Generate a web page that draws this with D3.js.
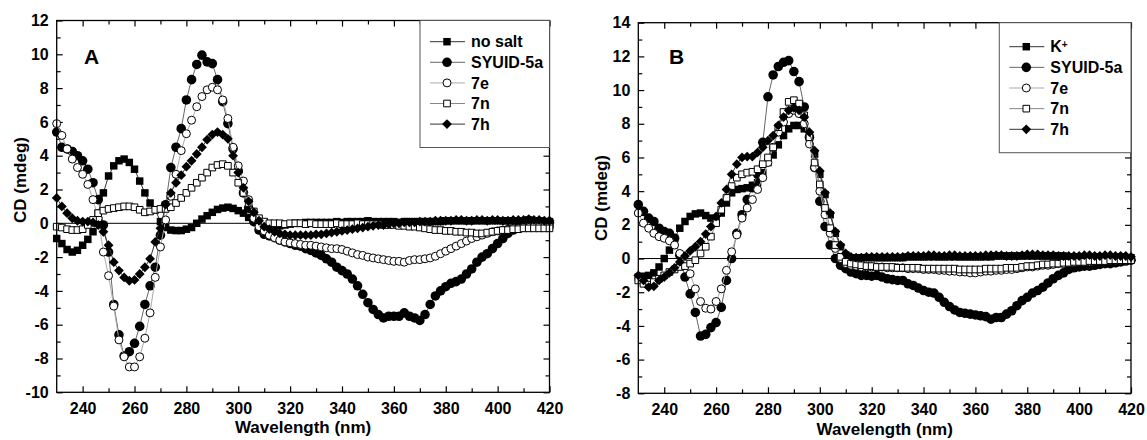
<!DOCTYPE html>
<html>
<head>
<meta charset="utf-8">
<script src="https://cdn.jsdelivr.net/npm/d3@7"></script>
<style>
  body { margin: 0; background: #fff; }
  svg text { font-family: "Liberation Sans", Arial, sans-serif; font-weight: bold; fill: #000; }
</style>
</head>
<body>
<svg width="1147" height="440"></svg>
<script>
// wavelength grid (nm), shared by every series
const wavelength = [
  230, 232, 234, 236, 238, 240, 242, 244, 246, 248,
  250, 252, 254, 256, 258, 260, 262, 264, 266, 268,
  270, 272, 274, 276, 278, 280, 282, 284, 286, 288,
  290, 292, 294, 296, 298, 300, 302, 304, 306, 308,
  310, 312, 314, 316, 318, 320, 322, 324, 326, 328,
  330, 332, 334, 336, 338, 340, 342, 344, 346, 348,
  350, 352, 354, 356, 358, 360, 362, 364, 366, 368,
  370, 372, 374, 376, 378, 380, 382, 384, 386, 388,
  390, 392, 394, 396, 398, 400, 402, 404, 406, 408,
  410, 412, 414, 416, 418, 420
];

const xTicks = [240, 260, 280, 300, 320, 340, 360, 380, 400, 420];
const xMinorTicks = [250, 270, 290, 310, 330, 350, 370, 390, 410];
const yTicksA = [-10, -8, -6, -4, -2, 0, 2, 4, 6, 8, 10, 12];
const yTicksB = [-8, -6, -4, -2, 0, 2, 4, 6, 8, 10, 12, 14];

// ---- panel A ----
const noSaltA = [
  -0.9, -1.2, -1.55, -1.7, -1.6, -1.3, -0.95, -0.5, 0.6, 1.8,
  2.8, 3.4, 3.7, 3.8, 3.6, 3.2, 2.5, 1.8, 1.2, 0.8,
  0.1, -0.25, -0.4, -0.43, -0.43, -0.35, -0.25, 0, 0.25, 0.45,
  0.65, 0.82, 0.9, 0.95, 0.88, 0.75, 0.6, 0.35, 0.15, -0.05,
  -0.2, -0.25, -0.2, -0.15, -0.1, -0.05, 0, 0, 0.05, 0.05,
  0.05, 0.05, 0.05, 0.05, 0.1, 0.05, 0.1, 0.1, 0.1, 0.1,
  0.15, 0.1, 0.1, 0.1, 0.1, 0.1, 0.05, 0.1, 0.1, 0.1,
  0.1, 0.1, 0.1, 0.1, 0.1, 0.15, 0.15, 0.15, 0.15, 0.15,
  0.15, 0.15, 0.15, 0.15, 0.15, 0.15, 0.15, 0.15, 0.15, 0.15,
  0.15, 0.2, 0.15, 0.15, 0.1, 0.1
];
const syuidA = [
  5.4, 4.5, 4.4, 4.25, 4.0, 3.7, 3.2, 2.4, 1.4, -0.1,
  -1.7, -4.8, -6.6, -7.85, -7.6, -7.1, -6.1, -4.8, -3.7, -2.6,
  -0.7, 1.1, 3.3, 4.5, 5.6, 7.3, 8.5, 9.4, 9.95, 9.55,
  9.45, 8.5, 7.2, 5.9, 4.4, 3.1, 1.8, 0.9, 0.1, -0.4,
  -0.65, -0.75, -0.85, -1.0, -1.1, -1.2, -1.3, -1.35, -1.5, -1.6,
  -1.75, -1.9, -2.1, -2.3, -2.6, -2.8, -3.0, -3.3, -3.7, -4.2,
  -4.7, -5.1, -5.4, -5.6, -5.5, -5.5, -5.5, -5.3, -5.5, -5.6,
  -5.75, -5.4, -4.8, -4.3, -4.0, -3.75, -3.55, -3.45, -3.3, -3.0,
  -2.7, -2.3, -2.0, -1.8, -1.5, -1.2, -0.9, -0.6, -0.4, -0.25,
  -0.1, 0, 0.05, 0.05, 0.05, 0.05
];
const e7A = [
  5.9, 5.2, 4.4, 3.8, 3.3, 2.9, 2.3, 1.4, 0.3, -1.7,
  -3.1, -4.9, -6.9, -7.9, -8.5, -8.5, -7.9, -6.8, -5.3, -3.2,
  -1.4, 0.2, 1.6, 2.9, 4.3, 5.3, 6.1, 6.9, 7.5, 7.9,
  8.05, 7.9, 7.3, 6.2, 4.5, 3.4, 2.5, 1.4, 0.3, -0.2,
  -0.45, -0.7, -0.85, -1.0, -1.1, -1.15, -1.2, -1.25, -1.3, -1.3,
  -1.35, -1.4, -1.45, -1.5, -1.5, -1.55, -1.65, -1.75, -1.85, -1.9,
  -2.0, -2.05, -2.1, -2.15, -2.2, -2.25, -2.25, -2.3, -2.2, -2.15,
  -2.15, -2.1, -2.05, -1.95, -1.8, -1.65, -1.5, -1.35, -1.2, -1.05,
  -0.9, -0.8, -0.7, -0.6, -0.5, -0.45, -0.4, -0.35, -0.3, -0.3,
  -0.25, -0.25, -0.2, -0.2, -0.2, -0.2
];
const n7A = [
  -0.2, -0.25, -0.35, -0.4, -0.4, -0.35, -0.1, 0.2, 0.6, 0.75,
  0.85, 0.9, 0.95, 1.0, 1.0, 0.95, 0.8, 0.65, 0.7, 0.8,
  0.85, 0.85, 0.95, 1.2, 1.5, 1.8, 2.1, 2.4, 2.7, 3.0,
  3.3, 3.45, 3.5, 3.4, 3.0, 2.4, 1.8, 1.2, 0.7, 0.3,
  0.1, 0, 0, 0, -0.05, 0, 0, 0, -0.05, 0,
  -0.05, -0.05, -0.05, -0.05, 0, -0.05, -0.05, -0.05, 0, -0.05,
  -0.05, -0.05, -0.05, -0.1, -0.1, -0.1, -0.15, -0.15, -0.2, -0.2,
  -0.25, -0.3, -0.35, -0.4, -0.4, -0.45, -0.45, -0.5, -0.5, -0.55,
  -0.55, -0.6, -0.6, -0.55, -0.5, -0.45, -0.4, -0.4, -0.35, -0.35,
  -0.3, -0.3, -0.3, -0.3, -0.3, -0.3
];
const h7A = [
  1.5, 1.0, 0.6, 0.3, 0.15, 0.1, 0.1, 0.05, -0.1, -0.5,
  -1.3, -2.3, -2.8, -3.2, -3.4, -3.35, -3.0, -2.6, -2.1, -1.1,
  -0.3, 1.1, 1.8, 2.4, 2.85, 3.35, 3.7, 4.1, 4.5, 4.95,
  5.25, 5.4, 5.25, 5.0, 4.0, 3.0, 2.1, 1.3, 0.65, 0.15,
  -0.2, -0.35, -0.5, -0.6, -0.65, -0.7, -0.7, -0.7, -0.7, -0.7,
  -0.65, -0.65, -0.6, -0.55, -0.5, -0.45, -0.4, -0.35, -0.3, -0.25,
  -0.2, -0.15, -0.1, -0.1, -0.05, 0, 0, 0.05, 0.05, 0.05,
  0.1, 0.1, 0.1, 0.15, 0.15, 0.15, 0.15, 0.2, 0.2, 0.15,
  0.15, 0.2, 0.2, 0.15, 0.2, 0.2, 0.15, 0.15, 0.2, 0.2,
  0.2, 0.25, 0.2, 0.2, 0.15, 0.15
];

// ---- panel B ----
const kB = [
  -1.1, -1.05, -1.0, -0.85, -0.5, 0.0, 0.5, 1.2, 1.8, 2.2,
  2.5, 2.65, 2.7, 2.55, 2.4, 2.35, 2.7, 3.3, 3.9, 4.1,
  4.15, 4.2, 4.35, 4.5, 5.1, 5.7, 6.15, 6.75, 7.3, 7.7,
  7.9, 7.9, 7.7, 7.2, 6.2, 5.0, 3.8, 2.6, 1.5, 0.7,
  0.2, 0.05, 0.0, 0.05, 0.05, 0.05, 0.05, 0.05, 0.05, 0.05,
  0.05, 0.05, 0.1, 0.1, 0.1, 0.1, 0.1, 0.1, 0.1, 0.1,
  0.1, 0.1, 0.1, 0.1, 0.1, 0.1, 0.1, 0.1, 0.1, 0.15,
  0.15, 0.15, 0.15, 0.15, 0.15, 0.15, 0.15, 0.15, 0.15, 0.15,
  0.15, 0.15, 0.15, 0.1, 0.1, 0.1, 0.1, 0.1, 0.1, 0.1,
  0.1, 0.1, 0.1, 0.1, 0.05, 0.05
];
const syuidB = [
  3.2, 2.8, 2.4, 2.2, 1.8, 1.6, 1.5, 1.2, 0.2, -1.1,
  -2.1, -3.2, -4.6, -4.5, -4.1, -3.8, -2.9, -1.3, 0.0, 1.5,
  2.6, 3.5, 4.2, 5.0, 6.9, 9.6, 10.9, 11.4, 11.65, 11.75,
  11.1, 10.5, 9.0, 7.2, 5.4, 3.4, 1.9, 0.8, 0.0, -0.4,
  -0.6, -0.8, -0.9, -1.0, -1.0, -1.05, -1.0, -1.1, -1.2, -1.25,
  -1.3, -1.3, -1.5, -1.6, -1.75, -1.9, -2.0, -2.05, -2.3, -2.6,
  -2.85, -3.05, -3.2, -3.25, -3.3, -3.35, -3.4, -3.45, -3.6, -3.5,
  -3.5, -3.3, -3.1, -2.8, -2.5, -2.3, -2.05, -1.9, -1.7, -1.45,
  -1.2, -1.0, -0.85, -0.65, -0.55, -0.5, -0.45, -0.45, -0.4, -0.35,
  -0.3, -0.3, -0.25, -0.2, -0.15, -0.1
];
const e7B = [
  2.7, 2.1, 1.8, 1.5, 1.3, 1.2, 1.05, 0.8, 0.3, -0.3,
  -0.9, -1.8, -2.55, -2.95, -3.0, -2.55, -1.8, -0.7, 0.4, 1.4,
  2.4, 3.0, 3.5, 4.1, 4.8, 5.7, 6.6, 7.5, 8.1, 8.6,
  8.8, 8.6, 8.0, 6.8, 5.4, 4.0, 2.6, 1.5, 0.6, 0.0,
  -0.3, -0.4, -0.45, -0.5, -0.5, -0.5, -0.5, -0.5, -0.55, -0.55,
  -0.55, -0.55, -0.6, -0.6, -0.6, -0.65, -0.65, -0.65, -0.7, -0.7,
  -0.75, -0.75, -0.8, -0.8, -0.85, -0.85, -0.8, -0.75, -0.75, -0.7,
  -0.7, -0.65, -0.65, -0.6, -0.55, -0.5, -0.5, -0.45, -0.4, -0.4,
  -0.35, -0.3, -0.3, -0.25, -0.25, -0.2, -0.2, -0.2, -0.15, -0.15,
  -0.15, -0.1, -0.1, -0.1, -0.1, -0.1
];
const n7B = [
  -1.3, -1.5, -1.55, -1.4, -1.2, -1.0, -0.8, -0.65, -0.5, -0.45,
  -0.3, -0.1, 0.3, 0.7, 1.3, 2.1, 2.9, 3.6, 4.3, 4.8,
  5.0, 5.1, 5.15, 5.3, 5.6, 6.0, 6.6, 7.8, 8.7, 9.3,
  9.4, 9.2, 8.5, 7.2, 5.7, 4.4, 3.0, 1.8, 0.8, 0.1,
  -0.2, -0.3, -0.35, -0.4, -0.45, -0.45, -0.5, -0.5, -0.5, -0.5,
  -0.55, -0.55, -0.55, -0.55, -0.55, -0.6, -0.6, -0.6, -0.6, -0.6,
  -0.6, -0.6, -0.65, -0.65, -0.65, -0.65, -0.65, -0.6, -0.6, -0.6,
  -0.6, -0.55, -0.55, -0.55, -0.5, -0.45, -0.45, -0.4, -0.35, -0.35,
  -0.3, -0.3, -0.25, -0.25, -0.2, -0.2, -0.2, -0.15, -0.15, -0.15,
  -0.15, -0.1, -0.1, -0.1, -0.1, -0.1
];
const h7B = [
  -1.0, -1.3, -1.7, -1.65, -1.3, -1.1, -0.85, -0.55, -0.2, 0.15,
  0.45, 0.7, 1.0, 1.45, 1.9, 2.5, 3.3, 4.1, 5.0, 5.6,
  6.0, 6.05, 6.05, 6.3, 6.6, 7.0, 7.3, 7.9, 8.4, 8.8,
  8.95, 8.8, 8.4, 7.5, 6.4, 5.2, 3.9, 2.7, 1.6, 0.8,
  0.3, 0.1, 0.05, 0.05, 0.1, 0.1, 0.1, 0.1, 0.1, 0.1,
  0.1, 0.1, 0.15, 0.15, 0.15, 0.15, 0.2, 0.2, 0.15, 0.15,
  0.2, 0.2, 0.15, 0.15, 0.15, 0.15, 0.15, 0.2, 0.2, 0.2,
  0.2, 0.15, 0.15, 0.15, 0.2, 0.25, 0.25, 0.25, 0.2, 0.2,
  0.2, 0.15, 0.15, 0.15, 0.15, 0.15, 0.2, 0.2, 0.15, 0.15,
  0.2, 0.2, 0.15, 0.15, 0.15, 0.1
];

// marker / line styles, keyed by marker kind
const styles = {
  filledSquare:  { type: d3.symbolSquare, size: 56, rot: 0,  fill: '#000', stroke: 'none', line: '#333' },
  filledCircle:  { type: d3.symbolCircle, size: 72, rot: 0,  fill: '#000', stroke: 'none', line: '#666' },
  openCircle:    { type: d3.symbolCircle, size: 50, rot: 0,  fill: '#fff', stroke: '#000', line: '#aaa' },
  openSquare:    { type: d3.symbolSquare, size: 44, rot: 0,  fill: '#fff', stroke: '#000', line: '#888' },
  filledDiamond: { type: d3.symbolSquare, size: 48, rot: 45, fill: '#000', stroke: 'none', line: '#333' }
};

const svg = d3.select('svg');

function drawPanel(p) {
  const x = d3.scaleLinear().domain([230, 420]).range([p.left, p.right]);
  const y = d3.scaleLinear().domain(p.yDomain).range([p.bottom, p.top]);
  const g = svg.append('g');

  // zero line
  g.append('line')
    .attr('x1', p.left).attr('x2', p.right)
    .attr('y1', y(0)).attr('y2', y(0))
    .attr('stroke', '#000').attr('stroke-width', 1);

  const yMinor = d3.range(p.yDomain[0] + 1, p.yDomain[1], 2);

  const axes = [
    [d3.axisBottom(x).tickValues(xTicks).tickSize(-6).tickPadding(10).tickFormat(d => d), `translate(0,${p.bottom})`],
    [d3.axisBottom(x).tickValues(xMinorTicks).tickSize(-4).tickFormat(''), `translate(0,${p.bottom})`],
    [d3.axisTop(x).tickValues(xTicks).tickSize(-6).tickFormat(''), `translate(0,${p.top})`],
    [d3.axisTop(x).tickValues(xMinorTicks).tickSize(-4).tickFormat(''), `translate(0,${p.top})`],
    [d3.axisLeft(y).tickValues(p.yTicks).tickSize(-6).tickPadding(8).tickFormat(d => String(d)), `translate(${p.left},0)`],
    [d3.axisLeft(y).tickValues(yMinor).tickSize(-4).tickFormat(''), `translate(${p.left},0)`],
    [d3.axisRight(y).tickValues(p.yTicks).tickSize(-6).tickFormat(''), `translate(${p.right},0)`],
    [d3.axisRight(y).tickValues(yMinor).tickSize(-4).tickFormat(''), `translate(${p.right},0)`]
  ];
  axes.forEach(([axis, tr]) => {
    const a = g.append('g').attr('transform', tr).call(axis);
    a.select('.domain').remove();
    a.selectAll('line').attr('stroke', '#000').attr('stroke-width', 1.2);
    a.selectAll('text').style('font-size', '16px');
  });

  // series: line then markers
  const line = d3.line().x(d => x(d[0])).y(d => y(d[1]));
  p.series.forEach(s => {
    const st = styles[s.marker];
    const pts = wavelength.map((w, i) => [w, s.values[i]]);
    g.append('path')
      .attr('d', line(pts))
      .attr('fill', 'none')
      .attr('stroke', st.line)
      .attr('stroke-width', 1);
    g.append('g').selectAll('path')
      .data(pts)
      .enter().append('path')
      .attr('d', d3.symbol().type(st.type).size(st.size))
      .attr('transform', d => `translate(${x(d[0])},${y(d[1])}) rotate(${st.rot})`)
      .attr('fill', st.fill)
      .attr('stroke', st.stroke)
      .attr('stroke-width', 1);
  });

  // frame
  g.append('rect')
    .attr('x', p.left).attr('y', p.top)
    .attr('width', p.right - p.left).attr('height', p.bottom - p.top)
    .attr('fill', 'none').attr('stroke', '#000').attr('stroke-width', 1.3);

  // legend
  const lg = g.append('g');
  lg.append('rect')
    .attr('x', p.legend.x).attr('y', p.top)
    .attr('width', p.right - p.legend.x).attr('height', p.legend.h)
    .attr('fill', '#fff').attr('stroke', '#555').attr('stroke-width', 1);
  p.series.forEach((s, i) => {
    const st = styles[s.marker];
    const cy = p.top + p.legend.first + i * p.legend.step;
    const lx = p.legend.x;
    lg.append('line')
      .attr('x1', lx + 10).attr('x2', lx + 45)
      .attr('y1', cy).attr('y2', cy)
      .attr('stroke', st.line).attr('stroke-width', 1);
    lg.append('path')
      .attr('d', d3.symbol().type(st.type).size(st.size)())
      .attr('transform', `translate(${lx + 27},${cy}) rotate(${st.rot})`)
      .attr('fill', st.fill).attr('stroke', st.stroke).attr('stroke-width', 1);
    const t = lg.append('text')
      .attr('x', lx + 51).attr('y', cy).attr('dy', '0.36em')
      .style('font-size', '16px')
      .text(s.name);
    if (s.sup) {
      t.append('tspan').attr('dy', '-0.45em').style('font-size', '10px').text(s.sup);
    }
  });

  // panel letter
  g.append('text').attr('x', p.letterX).attr('y', 63.5)
    .style('font-size', '21px').text(p.letter);

  // axis titles
  g.append('text')
    .attr('x', (p.left + p.right) / 2).attr('y', p.xTitleY)
    .attr('text-anchor', 'middle').style('font-size', '17px')
    .text('Wavelength (nm)');
  g.append('text')
    .attr('transform', `translate(${p.yTitleX},${p.yTitleY}) rotate(-90)`)
    .attr('text-anchor', 'middle').attr('dy', '0.36em').style('font-size', '17px')
    .text('CD (mdeg)');
}

drawPanel({
  left: 56.7, right: 549.5, top: 20.5, bottom: 392.3,
  yDomain: [-10, 12], yTicks: yTicksA,
  letter: 'A', letterX: 84,
  xTitleY: 433, yTitleX: 20, yTitleY: 180,
  legend: { x: 420, h: 127, first: 21.2, step: 20.6 },
  series: [
    { name: 'no salt', values: noSaltA, marker: 'filledSquare' },
    { name: 'SYUID-5a', values: syuidA, marker: 'filledCircle' },
    { name: '7e', values: e7A, marker: 'openCircle' },
    { name: '7n', values: n7A, marker: 'openSquare' },
    { name: '7h', values: h7A, marker: 'filledDiamond' }
  ]
});

drawPanel({
  left: 638.3, right: 1131, top: 22.7, bottom: 393.3,
  yDomain: [-8, 14], yTicks: yTicksB,
  letter: 'B', letterX: 669,
  xTitleY: 435, yTitleX: 601, yTitleY: 198,
  legend: { x: 999.3, h: 130, first: 24, step: 20.65 },
  series: [
    { name: 'K', sup: '+', values: kB, marker: 'filledSquare' },
    { name: 'SYUID-5a', values: syuidB, marker: 'filledCircle' },
    { name: '7e', values: e7B, marker: 'openCircle' },
    { name: '7n', values: n7B, marker: 'openSquare' },
    { name: '7h', values: h7B, marker: 'filledDiamond' }
  ]
});
</script>
</body>
</html>
